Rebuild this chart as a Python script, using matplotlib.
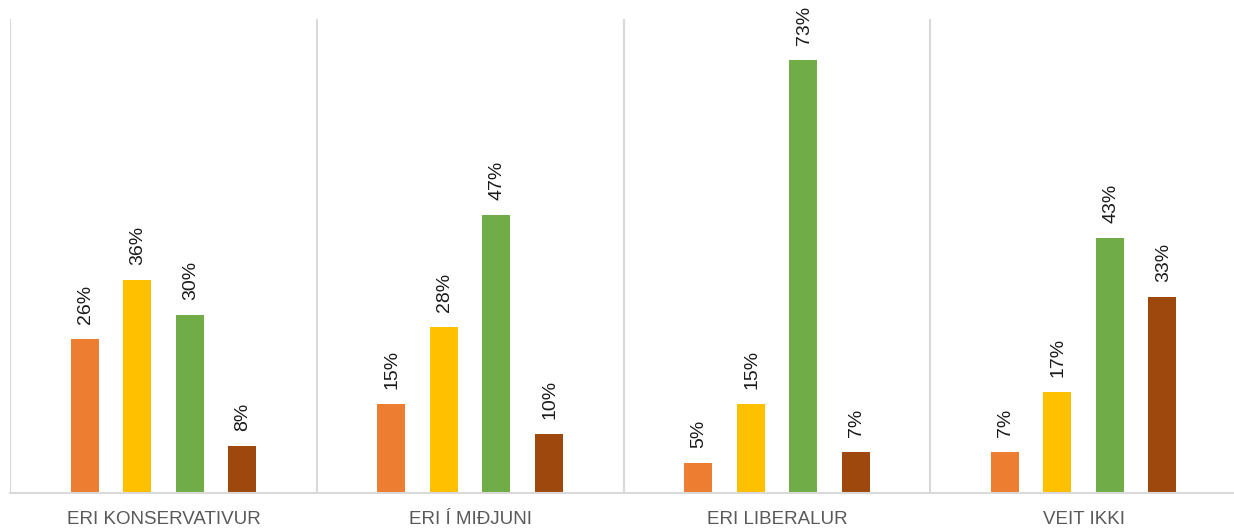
import matplotlib
matplotlib.use("Agg")
import matplotlib.pyplot as plt
import numpy as np

categories = ["ERI KONSERVATIVUR", "ERI Í MIÐJUNI", "ERI LIBERALUR", "VEIT IKKI"]
series_a = [26, 15, 5, 7]
series_b = [36, 28, 15, 17]
series_c = [30, 47, 73, 43]
series_d = [8, 10, 7, 33]
series = [series_a, series_b, series_c, series_d]
colors = ["#ED7D31", "#FFC000", "#70AD47", "#9E480E"]

plt.rcParams['font.family'] = ['Liberation Sans', 'DejaVu Sans']

W, H = 1234, 530
fig = plt.figure(figsize=(W / 100, H / 100), dpi=100)
left, right, bottom, top = 10, 1237, 493, 19
ax = fig.add_axes([left / W, (H - bottom) / H, (right - left) / W, (bottom - top) / H])

x = np.arange(len(categories)) + 0.5
bw = 0.0913
step = 0.171
offsets = (np.arange(4) - 1.5) * step

for i, vals in enumerate(series):
    bars = ax.bar(x + offsets[i], vals, width=bw, color=colors[i], zorder=3)
    for b, v in zip(bars, vals):
        ax.annotate(f"{v}%", (b.get_x() + b.get_width() / 2, b.get_height()),
                    xytext=(1, 15), textcoords="offset pixels",
                    rotation=90, ha="center", va="bottom",
                    fontsize=14, color="#1a1a1a")

ax.set_xlim(0, 4)
ax.set_ylim(0, 80)
ax.set_yticks([])
ax.set_xticks(x)
ax.set_xticklabels(categories, fontsize=13.5, color="#595959")
ax.tick_params(axis="x", length=0, pad=13)

for gx in range(0, 5):
    ax.axvline(gx, color="#D9D9D9", lw=1.5, zorder=1)

for s in ["top", "right", "left"]:
    ax.spines[s].set_visible(False)
ax.spines["bottom"].set_color("#D9D9D9")
ax.spines["bottom"].set_linewidth(1.5)
ax.spines["bottom"].set_zorder(4)

fig.savefig("out.png", dpi=100)
